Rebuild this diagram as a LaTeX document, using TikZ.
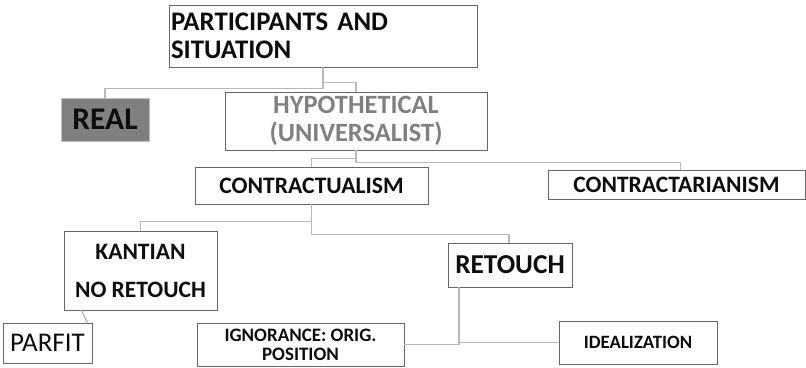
\documentclass[tikz,border=0pt]{standalone}
\usepackage{fontspec}
\setmainfont{Carlito}
\usepackage{xcolor}
\usepackage{tikz}

\begin{document}
\begin{tikzpicture}[x=1pt,y=-1pt,
  box/.style={draw=black!60, line width=0.9pt, fill=white, inner sep=2pt, font=\bfseries, text=black!95},
  link/.style={draw=black!28, line width=1.3pt}]
\useasboundingbox (0,0) rectangle (806,367);

\node[box, minimum width=308pt, minimum height=62pt, text width=304pt, align=left, font=\bfseries\fontsize{26.8}{28}\selectfont] (top) at (323,36) {PARTICIPANTS AND\\SITUATION};

\node[box, draw=black!25, fill=black!50, minimum width=88pt, minimum height=43pt, font=\bfseries\fontsize{31.5}{32}\selectfont] (real) at (105,119.5) {REAL};

\node[box, minimum width=262pt, minimum height=58pt, align=center, text=black!50, font=\bfseries\fontsize{26.4}{28}\selectfont] (hyp) at (356,121) {HYPOTHETICAL\\(UNIVERSALIST)};

\node[box, minimum width=233pt, minimum height=37pt, font=\bfseries\fontsize{23.6}{26}\selectfont] (ctu) at (311.5,185.5) {CONTRACTUALISM};

\node[box, minimum width=257pt, minimum height=29pt, font=\bfseries\fontsize{23.5}{26}\selectfont] (cta) at (676.5,184.5) {CONTRACTARIANISM};

\node[box, minimum width=153pt, minimum height=79pt, align=center, font=\bfseries\fontsize{23.5}{38}\selectfont] (kant) at (140.5,270.5) {KANTIAN\\NO RETOUCH};

\node[box, minimum width=124pt, minimum height=44pt, font=\bfseries\fontsize{27.3}{28}\selectfont] (ret) at (510,265) {RETOUCH};

\node[box, minimum width=89pt, minimum height=40pt, font=\fontsize{27}{28}\selectfont] (parfit) at (47.5,343) {PARFIT};

\node[box, minimum width=207pt, minimum height=43pt, align=center, font=\bfseries\fontsize{19}{19}\selectfont] (ign) at (300.5,344.5) {IGNORANCE: ORIG.\\POSITION};

\node[box, minimum width=158pt, minimum height=43pt, font=\bfseries\fontsize{18.8}{20}\selectfont] (ideal) at (638,342.5) {IDEALIZATION};

\draw[link] (top.south) -- ++(0,21) -| (real.north);
\draw[link] (top.south) -- ++(0,15) -| (hyp.north);
\draw[link] (hyp.south) -- ++(0,8) -| (ctu.north);
\draw[link] (hyp.south) -- ++(0,12) -| ([xshift=4pt]cta.north);
\draw[link] (ctu.south) -- ++(0,17) -| (kant.north);
\draw[link] (ctu.south) -- ++(0,30) -| ([xshift=-1pt]ret.north);
\draw[link] ([xshift=-51pt]ret.south) |- (ign.east);
\draw[link] ([xshift=-51pt]ret.south) |- (ideal.west);
\draw[link] ([xshift=-59pt]kant.south) -- ([xshift=-5pt]parfit.north east);

\end{tikzpicture}
\end{document}
